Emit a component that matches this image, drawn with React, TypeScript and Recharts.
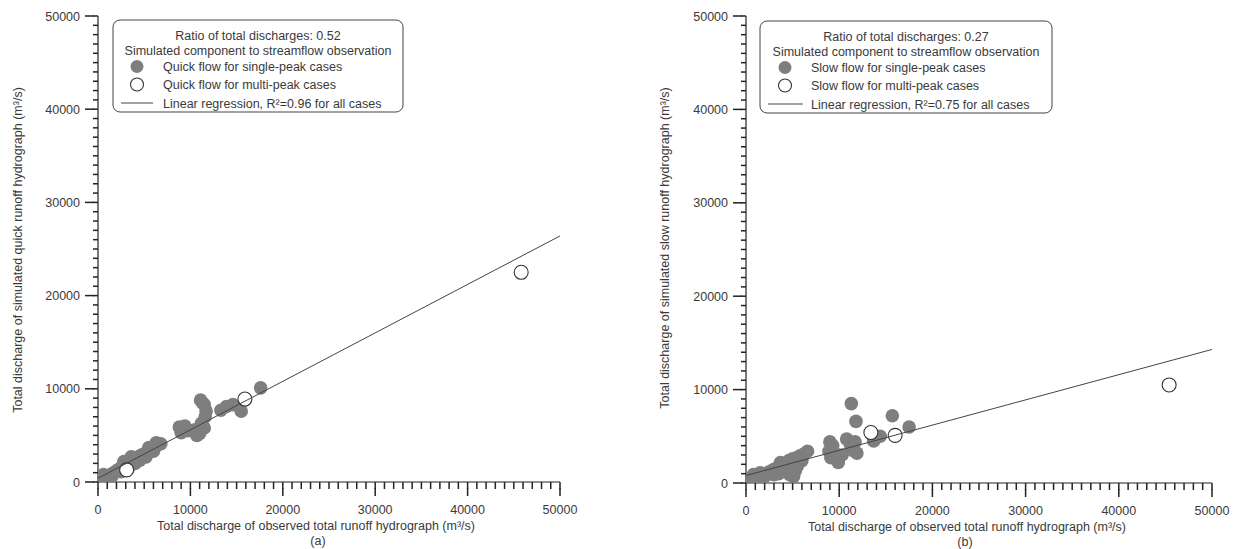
import React from 'react';
import { ScatterChart, Scatter, XAxis, YAxis } from 'recharts';

// ---- axis ticks ----
const majorTicks = [0, 10000, 20000, 30000, 40000, 50000];
const minorStep = 1000;
const allTicks: number[] = [];
for (let i = 0; i < majorTicks.length - 1; i++) {
  for (let v = majorTicks[i]; v < majorTicks[i + 1]; v += minorStep) allTicks.push(v);
}
allTicks.push(majorTicks[majorTicks.length - 1]);

// ---- panel (a): quick flow ----
const quickSingle: [number, number][] = [
  [200, 200], [500, 300], [800, 500], [1100, 700], [1400, 800], [1700, 1000], [2000, 1200],
  [2300, 1400], [2600, 1600], [2900, 2000], [3200, 2100], [3500, 2300], [3800, 2400],
  [4100, 2600], [4400, 2700], [4700, 2900], [5000, 3000], [5300, 3200], [5600, 3400],
  [5900, 3600], [6200, 3800], [6500, 4000], [6800, 4100], [3000, 1700], [4000, 2000],
  [2500, 1100], [1500, 600], [5500, 3700], [6000, 3300], [2800, 2200], [3600, 2700],
  [4500, 2300], [5200, 2700], [6300, 4200], [1000, 300], [600, 800], [3300, 1500],
  [8800, 5900], [9200, 5600], [9700, 5500], [10200, 5500], [10700, 5000], [11000, 5200],
  [11500, 5800], [9000, 5300], [10500, 5600], [9400, 6000], [11200, 6300],
  [11100, 8800], [11500, 8300], [11700, 7600], [11600, 7000], [13300, 7700], [13900, 8100],
  [14600, 8300], [15500, 7600], [17600, 10100], [11300, 8500],
];
const quickMulti: [number, number][] = [[3100, 1300], [15900, 8900], [45800, 22500]];
const quickRegression: [number, number][] = [[0, 400], [50000, 26400]];

// ---- panel (b): slow flow ----
const slowSingle: [number, number][] = [
  [200, 300], [500, 400], [900, 600], [1300, 800], [1700, 900], [2100, 1000], [2500, 1200],
  [2900, 1400], [3300, 1600], [3700, 2200], [3900, 1800], [4300, 1900], [4600, 2400],
  [4900, 1500], [5100, 700], [5000, 2600], [5400, 2700], [5800, 2900], [6200, 3100],
  [6600, 3400], [4300, 1200], [3000, 900], [2000, 700], [5500, 1800], [800, 900],
  [1500, 1100], [3500, 1000], [4700, 900], [5300, 1300], [6000, 2400], [200, 0], [1000, 200],
  [9000, 4400], [8900, 3400], [9100, 2700], [9900, 2200], [10300, 3000], [10800, 4700],
  [11200, 4100], [11400, 3500], [11900, 3200], [11700, 4400], [9500, 3200], [9300, 4000],
  [11300, 8500], [11800, 6600], [15700, 7200], [17500, 6000], [13700, 4500], [14400, 5000],
];
const slowMulti: [number, number][] = [[13400, 5400], [16000, 5100], [45400, 10500]];
const slowRegression: [number, number][] = [[0, 800], [50000, 14300]];

const toPts = (a: [number, number][]) => a.map(([x, y]) => ({ x, y }));

const FONT = '"Liberation Sans", Arial, sans-serif';
const INK = '#3a3a3a';
const TICK = '#222';
const FS = 12.5;
const X_MINOR = 7;
const Y_MINOR = 5;

const XTick = (props: any) => {
  const { x, y, payload } = props;
  const v = payload.value;
  const major = v % 10000 === 0;
  return (
    <g>
      {major && <rect x={x - 0.75} y={y - 1} width={1.5} height={8} fill={TICK} />}
      {major && (
        <text x={x} y={y + 25} textAnchor="middle" fontSize={FS} fontFamily={FONT} fill={INK}>
          {v}
        </text>
      )}
    </g>
  );
};

const YTick = (props: any) => {
  const { x, y, payload } = props;
  const v = payload.value;
  const major = v % 10000 === 0;
  return (
    <g>
      {major && <rect x={x - 8} y={y - 0.75} width={9} height={1.5} fill={TICK} />}
      {major && (
        <text x={x - 13} y={y + 4.5} textAnchor="end" fontSize={FS} fontFamily={FONT} fill={INK}>
          {v}
        </text>
      )}
    </g>
  );
};

const FilledDot = (p: any) => <circle cx={p.cx} cy={p.cy} r={6.8} fill="#7e7e7e" />;
const OpenDot = (p: any) => (
  <circle cx={p.cx} cy={p.cy} r={7} fill="#ffffff" stroke="#333" strokeWidth={1.1} />
);
const NoDot = () => <g />;

type PanelProps = {
  left: number;
  width: number;
  margin: { top: number; right: number; bottom: number; left: number };
  single: [number, number][];
  multi: [number, number][];
  reg: [number, number][];
};

const Panel = ({ left, width, margin, single, multi, reg }: PanelProps) => (
  <div style={{ position: 'absolute', left, top: 0, width, height: 549 }}>
    <ScatterChart width={width} height={549} margin={margin}>
      <XAxis
        type="number"
        dataKey="x"
        domain={[0, 50000]}
        ticks={allTicks}
        interval={0}
        tickLine={{ stroke: TICK, strokeWidth: 1.5 }}
        tickSize={X_MINOR}
        tickMargin={0}
        tick={(p: any) => <XTick {...p} />}
        axisLine={{ stroke: TICK, strokeWidth: 1.2 }}
        height={50}
        allowDataOverflow
      />
      <YAxis
        type="number"
        dataKey="y"
        domain={[0, 50000]}
        ticks={allTicks}
        interval={0}
        tickLine={{ stroke: TICK, strokeWidth: 1.5 }}
        tickSize={Y_MINOR}
        tickMargin={0}
        tick={(p: any) => <YTick {...p} />}
        axisLine={{ stroke: TICK, strokeWidth: 1.2 }}
        width={60}
        allowDataOverflow
      />
      <Scatter data={toPts(single)} shape={FilledDot} isAnimationActive={false} />
      <Scatter data={toPts(multi)} shape={OpenDot} isAnimationActive={false} />
      <Scatter
        data={toPts(reg)}
        shape={NoDot}
        line={{ stroke: '#444', strokeWidth: 1 }}
        isAnimationActive={false}
      />
    </ScatterChart>
  </div>
);

type LegendProps = {
  bx: number; by: number; bw: number; bh: number;
  mx: number; lx1: number; lx2: number; tx: number;
  ratio: string; single: string; multi: string; reg: string;
};

const LegendBox = ({ bx, by, bw, bh, mx, lx1, lx2, tx, ratio, single, multi, reg }: LegendProps) => {
  const cx = bx + bw / 2;
  return (
    <g fontFamily={FONT} fontSize={FS} fill={INK}>
      <rect x={bx} y={by} width={bw} height={bh} rx={7} ry={7} fill="#fff" stroke="#444" strokeWidth={1} />
      <text x={cx} y={by + 19.5} textAnchor="middle">{ratio}</text>
      <text x={cx} y={by + 35} textAnchor="middle">Simulated component to streamflow observation</text>
      <circle cx={mx} cy={by + 46.5} r={6.5} fill="#7e7e7e" />
      <text x={tx} y={by + 51}>{single}</text>
      <circle cx={mx} cy={by + 64.5} r={6.5} fill="#fff" stroke="#333" strokeWidth={1.1} />
      <text x={tx} y={by + 69}>{multi}</text>
      <line x1={lx1} y1={by + 83} x2={lx2} y2={by + 83} stroke="#444" strokeWidth={1} />
      <text x={tx} y={by + 87.5}>{reg}</text>
    </g>
  );
};

export default function App() {
  return (
    <div style={{ position: 'absolute', left: 0, top: 0, width: 1243, height: 549, background: '#fff', overflow: 'hidden' }}>
      <Panel
        left={0}
        width={620}
        margin={{ top: 16, right: 60, bottom: 17, left: 38 }}
        single={quickSingle}
        multi={quickMulti}
        reg={quickRegression}
      />
      <Panel
        left={620}
        width={623}
        margin={{ top: 16, right: 31, bottom: 16, left: 66 }}
        single={slowSingle}
        multi={slowMulti}
        reg={slowRegression}
      />
      <svg width={1243} height={549} style={{ position: 'absolute', left: 0, top: 0, pointerEvents: 'none' }}>
        <g fontFamily={FONT} fontSize={FS} fill={INK}>
          <text x={18} y={250} textAnchor="middle" transform="rotate(-90 18 250)" dominantBaseline="central">
            Total discharge of simulated quick runoff hydrograph (m³/s)
          </text>
          <text x={316} y={530} textAnchor="middle">
            Total discharge of observed total runoff hydrograph (m³/s)
          </text>
          <text x={318} y={545} textAnchor="middle">(a)</text>
          <text x={665} y={248} textAnchor="middle" transform="rotate(-90 665 248)" dominantBaseline="central">
            Total discharge of simulated slow runoff hydrograph (m³/s)
          </text>
          <text x={967} y={531} textAnchor="middle">
            Total discharge of observed total runoff hydrograph (m³/s)
          </text>
          <text x={965} y={546} textAnchor="middle">(b)</text>
        </g>
        <LegendBox
          bx={113} by={20} bw={290} bh={92}
          mx={137} lx1={121} lx2={153} tx={163}
          ratio="Ratio of total discharges: 0.52"
          single="Quick flow for single-peak cases"
          multi="Quick flow for multi-peak cases"
          reg="Linear regression, R²=0.96 for all cases"
        />
        <LegendBox
          bx={760} by={21} bw={292} bh={92}
          mx={785} lx1={768} lx2={803} tx={811}
          ratio="Ratio of total discharges: 0.27"
          single="Slow flow for single-peak cases"
          multi="Slow flow for multi-peak cases"
          reg="Linear regression, R²=0.75 for all cases"
        />
      </svg>
    </div>
  );
}
